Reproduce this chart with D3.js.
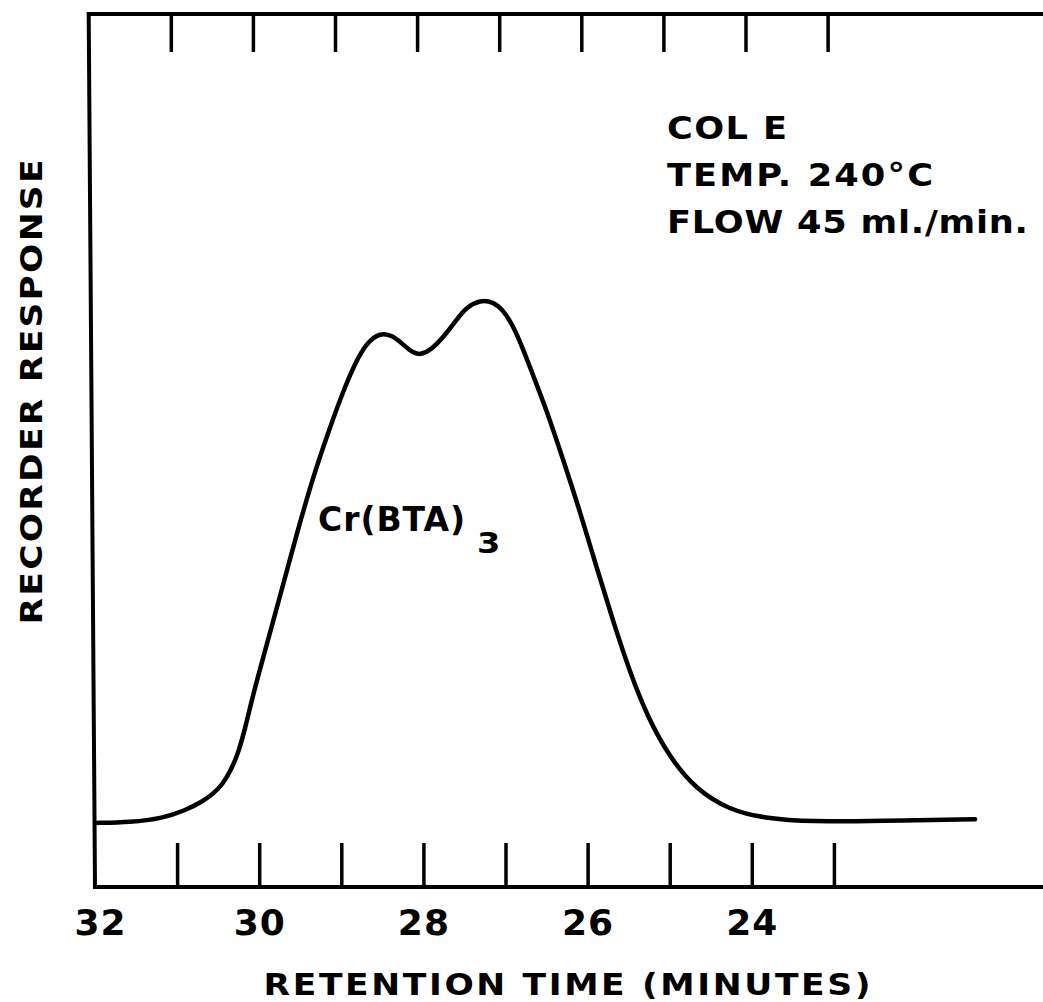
<!DOCTYPE html>
<html>
<head>
<meta charset="utf-8">
<script src="https://cdn.jsdelivr.net/npm/d3@7"></script>
<style>
  html, body { margin: 0; background: #fff; }
  svg { display: block; }
  text { font-family: "DejaVu Sans", sans-serif; font-weight: bold; fill: #000; }
</style>
</head>
<body>
<svg id="chart" width="1043" height="1002"></svg>
<script>
// Chromatogram trace: retention time (min) vs. recorder response (arbitrary units)
const retentionTime = [32.00, 31.57, 31.17, 30.90, 30.70, 30.56, 30.45, 30.35, 30.26, 30.17,
  30.08, 29.91, 29.75, 29.54, 29.35, 29.14, 28.98, 28.83, 28.69, 28.53,
  28.37, 28.25, 28.13, 28.04, 27.92, 27.76, 27.59, 27.47, 27.31, 27.15,
  27.03, 26.91, 26.79, 26.67, 26.50, 26.30, 26.09, 25.89, 25.69, 25.48,
  25.28, 25.00, 24.67, 24.27, 23.86, 23.26, 22.44, 21.28];
const response = [-0.2, -0.1, 0.7, 2.2, 3.8, 5.4, 7.1, 9.8, 12.9, 18.0,
  24.1, 33.9, 43.1, 55.4, 65.9, 75.6, 82.5, 88.1, 91.9, 93.9,
  93.3, 91.6, 90.0, 89.6, 90.4, 92.9, 96.5, 98.8, 100.1, 99.8,
  98.2, 95.3, 90.9, 85.9, 79.0, 69.6, 59.4, 48.8, 38.5, 28.5,
  20.5, 12.3, 6.1, 2.3, 0.7, 0.0, 0.2, 0.5];

const minuteTicks = [31, 30, 29, 28, 27, 26, 25, 24, 23];
const minuteLabels = [32, 30, 28, 26, 24];
const conditions = ["COL E", "TEMP. 240\u00B0C", "FLOW 45 ml./min."];
const conditionWidths = [120, 266, 361];
const compoundName = "Cr(BTA)";
const compoundSub = "3";
const xTitle = "RETENTION TIME (MINUTES)";
const yTitle = "RECORDER RESPONSE";

const W = 1043;
const svg = d3.select("#chart");

const x = d3.scaleLinear().domain([32, 20]).range([95, 95 + 12 * 82.1]);
// the upper edge of the recorder paper sits slightly left of the lower one
const xTop = x.copy().range([88.7, 88.7 + 12 * 82.1]);
const y = d3.scaleLinear().domain([-12.5, 155]).range([887, 14]);

const yBottom = y.range()[0], yTopEdge = y.range()[1];

// lettering is drawn a little wider than the font's own proportions
function letter(sel, px, py, sx, width, rotate) {
  const rot = rotate ? ` rotate(${rotate})` : "";
  sel.attr("transform", `translate(${px},${py})${rot} scale(${sx},1)`);
  if (width) sel.attr("textLength", width / sx).attr("lengthAdjust", "spacing");
  return sel;
}

// frame: top, left and bottom edges
svg.append("path")
  .attr("d", `M${W},${yTopEdge}H${xTop(32)}L${x(32)},${yBottom}H${W}`)
  .attr("fill", "none").attr("stroke", "#000")
  .attr("stroke-width", 4).attr("stroke-linejoin", "miter");

// bottom tick marks (pointing up)
const gBottom = svg.append("g").attr("transform", `translate(0,${yBottom})`)
  .call(d3.axisBottom(x).tickValues(minuteTicks).tickSize(-44).tickSizeOuter(0).tickFormat(""));
gBottom.select(".domain").remove();
gBottom.selectAll(".tick line").attr("stroke", "#000").attr("stroke-width", 3.5);

// bottom tick labels (the corner label sits clear of the frame)
const gLabels = svg.append("g").attr("transform", `translate(0,${yBottom})`)
  .call(d3.axisBottom(x).tickValues(minuteLabels).tickSize(0).tickPadding(22).tickFormat(d3.format("d")));
gLabels.select(".domain").remove();
gLabels.selectAll(".tick text")
  .attr("font-size", 36).attr("font-family", "DejaVu Sans").attr("font-weight", "bold")
  .attr("fill", "#000").attr("letter-spacing", 1)
  .attr("dx", d => d === x.domain()[0] ? 5 : 0);

// top tick marks (pointing down)
const gTop = svg.append("g").attr("transform", `translate(0,${yTopEdge})`)
  .call(d3.axisTop(xTop).tickValues(minuteTicks).tickSize(-38).tickSizeOuter(0).tickFormat(""));
gTop.select(".domain").remove();
gTop.selectAll(".tick line").attr("stroke", "#000").attr("stroke-width", 3.5);

// chromatogram trace
const trace = retentionTime.map((t, i) => [t, response[i]]);
svg.append("path")
  .datum(trace)
  .attr("fill", "none").attr("stroke", "#000")
  .attr("stroke-width", 4.5).attr("stroke-linecap", "round").attr("stroke-linejoin", "round")
  .attr("d", d3.line().x(d => x(d[0])).y(d => y(d[1])).curve(d3.curveBasis));

// axis titles
letter(svg.append("text").attr("text-anchor", "middle").attr("font-size", 30).text(xTitle),
  567, 995, 1.15, 607);
letter(svg.append("text").attr("text-anchor", "middle").attr("font-size", 30).text(yTitle),
  42, 392, 1.15, 465, -90);

// operating conditions
svg.append("g").selectAll("text").data(conditions).join("text")
  .attr("font-size", 32)
  .text(d => d)
  .each(function (d, i) { letter(d3.select(this), 667, 139 + i * 47, 1.1, conditionWidths[i]); });

// compound label with subscript
letter(svg.append("text").attr("font-size", 33).text(compoundName), 318, 531, 1.0, 147);
letter(svg.append("text").attr("font-size", 28).text(compoundSub), 477, 553, 1.2, 0);
</script>
</body>
</html>
